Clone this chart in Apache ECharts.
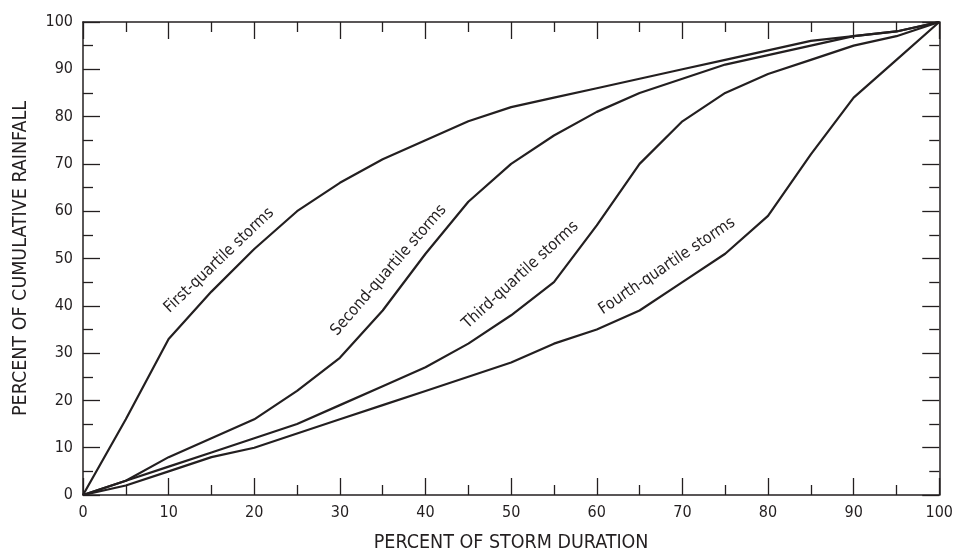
<!DOCTYPE html>
<html>
<head>
<meta charset="utf-8">
<script src="https://cdn.jsdelivr.net/npm/echarts@6/dist/echarts.min.js"></script>
<style>
html,body{margin:0;padding:0;background:#fff;}
#c{width:956px;height:558px;}
</style>
</head>
<body>
<div id="c"></div>
<script>
// Percent of storm duration
const duration = [0,5,10,15,20,25,30,35,40,45,50,55,60,65,70,75,80,85,90,95,100];
// Percent of cumulative rainfall
const firstQuartile  = [0,16,33,43,52,60,66,71,75,79,82,84,86,88,90,92,94,96,97,98,100];
const secondQuartile = [0,3,8,12,16,22,29,39,51,62,70,76,81,85,88,91,93,95,97,98,100];
const thirdQuartile  = [0,3,6,9,12,15,19,23,27,32,38,45,57,70,79,85,89,92,95,97,100];
const fourthQuartile = [0,2,5,8,10,13,16,19,22,25,28,32,35,39,45,51,59,72,84,92,100];
const seriesNames = ['First-quartile storms','Second-quartile storms','Third-quartile storms','Fourth-quartile storms'];
const xTitle = 'PERCENT OF STORM DURATION';
const yTitle = 'PERCENT OF CUMULATIVE RAINFALL';

// label placement (data-space anchor and angle)
const labelPlacement = [
  {x:15.9, y:49.6, angle:43.5},
  {x:35.7, y:47.5, angle:49},
  {x:51.1, y:46.5, angle:42.4},
  {x:68.2, y:48.4, angle:34}
];

const FONT = '"DejaVu Sans Condensed","DejaVu Sans",sans-serif';
const INK = '#231f20';
const chart = echarts.init(document.getElementById('c'), null, {renderer:'canvas'});

function axisCommon(showLabel){
  return {
    type:'value', min:0, max:100, interval:10,
    axisLine:{show:true, onZero:false, lineStyle:{color:INK, width:1.5}},
    axisTick:{show:true, inside:true, length:17, lineStyle:{color:INK, width:1.3}},
    minorTick:{show:true, splitNumber:2, length:10, lineStyle:{color:INK, width:1.3}},
    splitLine:{show:false},
    minorSplitLine:{show:false},
    axisLabel:{show:showLabel, color:INK, fontFamily:FONT, fontSize:16, margin:10}
  };
}

const lists = [firstQuartile, secondQuartile, thirdQuartile, fourthQuartile];
const series = lists.map((vals, i) => ({
  name: seriesNames[i],
  type:'line',
  xAxisIndex:0, yAxisIndex:0,
  data: duration.map((d, j) => [d, vals[j]]),
  showSymbol:false, symbol:'none',
  lineStyle:{color:INK, width:2.2},
  silent:true, animation:false
}));

chart.setOption({
  animation:false,
  backgroundColor:'#fff',
  grid:{left:83, right:13, top:22, bottom:60, containLabel:false},
  xAxis:[
    Object.assign(axisCommon(true), {position:'bottom', name:xTitle, nameLocation:'middle', nameGap:38,
      nameTextStyle:{color:INK, fontFamily:FONT, fontSize:19.5}}),
    Object.assign(axisCommon(false), {position:'top'})
  ],
  yAxis:[
    Object.assign(axisCommon(true), {position:'left', name:yTitle, nameLocation:'middle', nameGap:52,
      nameTextStyle:{color:INK, fontFamily:FONT, fontSize:19.5}}),
    Object.assign(axisCommon(false), {position:'right'})
  ],
  series: series
});

const graphics = labelPlacement.map((p, i) => {
  const pt = chart.convertToPixel({xAxisIndex:0, yAxisIndex:0}, [p.x, p.y]);
  return {
    type:'text', x:pt[0], y:pt[1], rotation:p.angle*Math.PI/180,
    style:{text:seriesNames[i], fill:INK, font:'16px ' + FONT, align:'center', verticalAlign:'middle'},
    silent:true
  };
});
chart.setOption({graphic:graphics});
</script>
</body>
</html>
